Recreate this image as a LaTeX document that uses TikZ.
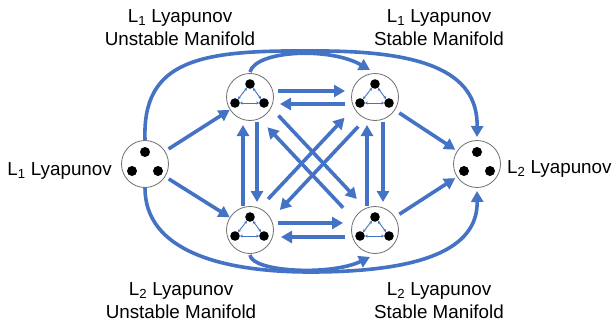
\documentclass[tikz,border=0pt]{standalone}
\usepackage{fontspec}
\setmainfont{Liberation Sans}
\usetikzlibrary{arrows.meta,calc}
\definecolor{flowblue}{HTML}{4472C4}
\definecolor{ringgray}{HTML}{6F6F6F}

\begin{document}
\begin{tikzpicture}[x=1pt,y=-1pt,
  state/.style={circle,draw=ringgray,line width=0.8pt,fill=white,minimum size=47pt,inner sep=0pt},
  flow/.style={draw=flowblue,line width=3.6pt,-{Triangle[length=11pt,width=12pt]}},
  link/.style={draw=flowblue,line width=0.9pt,
    {Stealth[length=2.8pt,width=3pt]}-{Stealth[length=2.8pt,width=3pt]},
    shorten <=5pt,shorten >=5pt},
  lbl/.style={font=\fontsize{18.8}{23}\selectfont,inner sep=0pt}]
\useasboundingbox (0,0) rectangle (613,324);

% periodic orbits and their manifolds
\node[state] (L1) at (145,164) {};
\node[state] (UL) at (250,97) {};
\node[state] (UR) at (375,97) {};
\node[state] (LL) at (250,230) {};
\node[state] (LR) at (375,230) {};
\node[state] (L2) at (477,164) {};

% three bodies inside the orbit nodes
\foreach \n in {L1,L2}{
  \fill ($(\n)+(0,-12)$) circle (5pt);
  \fill ($(\n)+(-13,7)$) circle (5pt);
  \fill ($(\n)+(13,7)$) circle (5pt);
}
% three bodies with mutual links inside the manifold nodes
\foreach \n in {UL,UR,LL,LR}{
  \coordinate (\n-t) at ($(\n)+(0,-13)$);
  \coordinate (\n-l) at ($(\n)+(-15,6)$);
  \coordinate (\n-r) at ($(\n)+(14,6)$);
  \draw[link] (\n-t) -- (\n-l);
  \draw[link] (\n-t) -- (\n-r);
  \draw[link] (\n-l) -- (\n-r);
  \foreach \p in {t,l,r} \fill (\n-\p) circle (4.8pt);
}

% straight transitions
\draw[flow] ($(L1)!28pt!(UL)$) -- ($(UL)!24pt!(L1)$);
\draw[flow] ($(L1)!28pt!(LL)$) -- ($(LL)!24pt!(L1)$);
\draw[flow] ($(UR)!29pt!(L2)$) -- ($(L2)!26pt!(UR)$);
\draw[flow] ($(LR)!29pt!(L2)$) -- ($(L2)!26pt!(LR)$);

% horizontal pairs
\draw[flow] ($(UL)+(28,-6)$) -- ($(UR)+(-30,-6)$);
\draw[flow] ($(UR)+(-30,7)$) -- ($(UL)+(30,7)$);
\draw[flow] ($(LL)+(28,-7)$) -- ($(LR)+(-32,-7)$);
\draw[flow] ($(LR)+(-30,7)$) -- ($(LL)+(31,7)$);

% vertical pairs
\draw[flow] ($(LL)+(-7,-24)$) -- ($(UL)+(-7,28)$);
\draw[flow] ($(UL)+(7,25)$) -- ($(LL)+(7,-28)$);
\draw[flow] ($(LR)+(-8,-24)$) -- ($(UR)+(-8,28)$);
\draw[flow] ($(UR)+(8,25)$) -- ($(LR)+(8,-28)$);

% diagonal pairs
\draw[flow] ($(UL)!33pt!(LR)!8pt!90:(LR)$) -- ($(LR)!35pt!(UL)!8pt!-90:(UL)$);
\draw[flow] ($(LR)!38pt!(UL)!8pt!90:(UL)$) -- ($(UL)!34pt!(LR)!8pt!-90:(LR)$);
\draw[flow] ($(LL)!35pt!(UR)!8pt!90:(UR)$) -- ($(UR)!36pt!(LL)!8pt!-90:(LL)$);
\draw[flow] ($(UR)!33pt!(LL)!8pt!90:(LL)$) -- ($(LL)!35pt!(UR)!8pt!-90:(UR)$);

% short arcs between manifolds
\draw[flow] ($(UL)+(0,-25)$) .. controls (256,50) and (330,47) .. ($(UR)+(-5,-27)$);
\draw[flow] ($(LL)+(0,25)$) .. controls (252,272) and (330,276) .. ($(LR)+(-5,27)$);

% long arcs from L1 to L2
\draw[flow] ($(L1)+(0,-24)$) .. controls (142,60) and (200,50) .. (310,51)
  .. controls (420,50) and (478,70) .. ($(L2)+(0,-27)$);
\draw[flow] ($(L1)+(0,24)$) .. controls (145,250) and (220,272) .. (310,272)
  .. controls (420,272) and (478,250) .. ($(L2)+(0,27)$);

% labels
\node[lbl,anchor=base east] (nameL1) at (112,175) {L\textsubscript{1} Lyapunov};
\node[lbl,anchor=base west] (nameL2) at (507,173) {L\textsubscript{2} Lyapunov};
\node[lbl,anchor=base] (ulA) at (180,22) {L\textsubscript{1} Lyapunov};
\node[lbl,anchor=base] (ulB) at (180,45) {Unstable Manifold};
\node[lbl,anchor=base] (urA) at (439,22) {L\textsubscript{1} Lyapunov};
\node[lbl,anchor=base] (urB) at (439,45) {Stable Manifold};
\node[lbl,anchor=base] (llA) at (181,295) {L\textsubscript{2} Lyapunov};
\node[lbl,anchor=base] (llB) at (181,318) {Unstable Manifold};
\node[lbl,anchor=base] (lrA) at (439,295) {L\textsubscript{2} Lyapunov};
\node[lbl,anchor=base] (lrB) at (439,318) {Stable Manifold};
\end{tikzpicture}
\end{document}
